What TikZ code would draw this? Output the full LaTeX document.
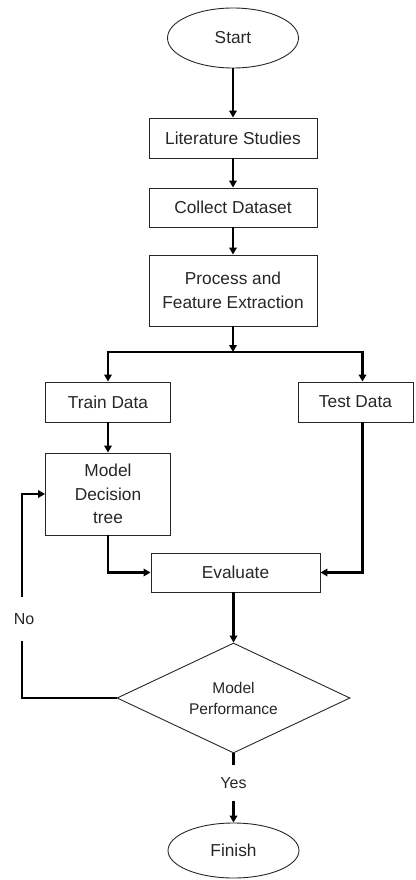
\documentclass[tikz,border=0pt]{standalone}
\usepackage{fontspec}
\setmainfont{Liberation Sans}
\usetikzlibrary{shapes.geometric,arrows.meta}
\begin{document}
\begin{tikzpicture}[x=1pt,y=-1pt,
  every node/.style={text=black!85},
  box/.style={draw=black!85, line width=0.9pt, rectangle, inner sep=0pt, align=center, font=\fontsize{17.3}{23.5}\selectfont},
  term/.style={draw=black!85, line width=0.9pt, ellipse, inner sep=0pt, font=\fontsize{17.3}{24}\selectfont},
  decide/.style={draw=black!85, line width=0.9pt, diamond, aspect=2, inner sep=0pt, align=center, font=\fontsize{15.5}{21}\selectfont},
  conn/.style={draw=black, line width=2.2pt},
  arr/.style={conn, -{Triangle[length=7pt,width=7.5pt]}},
  lbl/.style={font=\fontsize{16}{20}\selectfont, inner sep=0pt}
]
\useasboundingbox (0,0) rectangle (415,880);
\node[term, minimum width=131, minimum height=60] (start) at (233,38) {Start};
\node[box, minimum width=168, minimum height=40] (lit) at (233,138) {Literature Studies};
\node[box, minimum width=168, minimum height=39] (collect) at (233,207.5) {Collect Dataset};
\node[box, minimum width=168, minimum height=71] (process) at (233,290.5) {Process and\\Feature Extraction};
\node[box, minimum width=125, minimum height=40] (train) at (108,402) {Train Data};
\node[box, minimum width=115, minimum height=40] (test) at (355.5,402) {Test Data};
\node[box, minimum width=125, minimum height=82] (model) at (108,494) {Model\\Decision\\tree};
\node[box, minimum width=169, minimum height=39] (eval) at (235.5,572.5) {Evaluate};
\node[decide, minimum width=233, minimum height=110] (perf) at (233.5,698) {Model\\Performance};
\node[term, minimum width=131, minimum height=55] (finish) at (233.5,850.5) {Finish};
\node[lbl, inner ysep=16.5pt] (no) at (24,619) {No};
\node[lbl, inner ysep=12pt] (yes) at (233.5,783) {Yes};

\coordinate (junc) at (233,352);
\coordinate (tx) at (362.5,402);
\coordinate (fb) at (22,698);

\draw[arr] (start.south) -- (lit.north);
\draw[arr] (lit.south) -- (collect.north);
\draw[arr] (collect.south) -- (process.north);
\draw[arr] (process.south) -- (junc);
\draw[arr] (junc) -| (train.north);
\draw[arr] (junc) -| (tx |- test.north);
\draw[arr] (train.south) -- (model.north);
\draw[arr] (model.south) |- (eval.west);
\draw[arr] (tx |- test.south) |- (eval.east);
\draw[arr] (eval.south -| perf.north) -- (perf.north);
\draw[conn] (perf.west) -- (fb) -- (fb |- no.south);
\draw[arr] (fb |- no.north) |- (model.west);
\draw[conn] (perf.south) -- (yes.north);
\draw[arr] (yes.south) -- (finish.north);
\end{tikzpicture}
\end{document}
